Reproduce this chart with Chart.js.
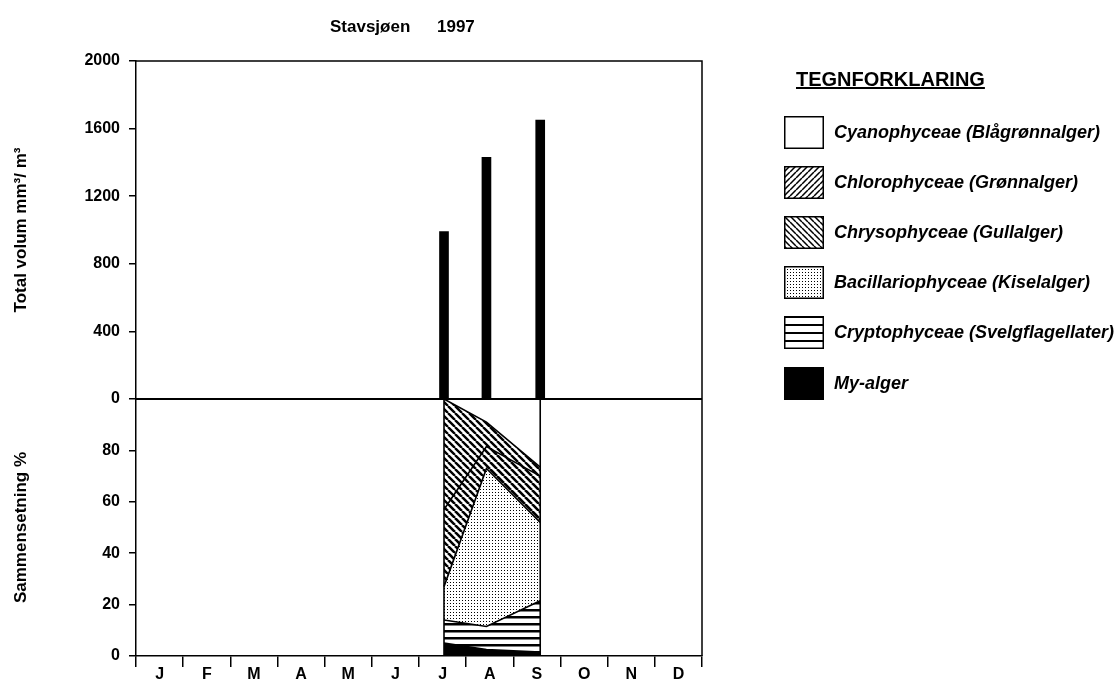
<!DOCTYPE html>
<html><head><meta charset="utf-8">
<script src="https://cdn.jsdelivr.net/npm/chart.js@4.4.1/dist/chart.umd.min.js"></script>
<style>
html,body{margin:0;padding:0;background:#fff;}
#wrap{position:relative;width:1119px;height:684px;overflow:hidden;font-family:"Liberation Sans",Arial,sans-serif;color:#000;background:#fff;}
#c{position:absolute;left:0;top:0;}
.t{position:absolute;font-weight:bold;white-space:nowrap;line-height:1;}
.li{position:absolute;left:784px;height:33px;}
.li canvas{position:absolute;left:0;top:0;}
.li span{position:absolute;left:50px;top:7px;font-weight:bold;font-style:italic;font-size:18px;white-space:nowrap;line-height:1;}
</style></head><body>
<div id="wrap">
<canvas id="c" width="1119" height="684"></canvas>
<div class="t" style="left:330px;top:18px;font-size:17px">Stavsjøen</div>
<div class="t" style="left:437px;top:18px;font-size:17px">1997</div>
<div class="t" style="left:796px;top:69px;font-size:20px;text-decoration:underline">TEGNFORKLARING</div>
<div id="legend"></div>
</div>
<script>
// ---- data ----
const months = ['J','F','M','A','M','J','J','A','S','O','N','D'];
const sampleMonths = [6.53, 7.43, 8.57];          // sampling dates, in months from 1 Jan
const totalVolume = [990, 1430, 1650];            // mm3/m3
const myAlger     = [5, 2.5, 1.5];                // % composition
const cryptophyceae = [9, 9, 20];
const bacillariophyceae = [13, 61.5, 30.5];
const chrysophyceae = [30, 8.5, 18];
const chlorophyceae = [43, 9.5, 3.5];
const cyanophyceae = [0, 9, 26.5];
const volumeTicks = [0, 400, 800, 1200, 1600, 2000];
const percentTicks = [0, 20, 40, 60, 80];
const legendNames = ['Cyanophyceae (Blågrønnalger)','Chlorophyceae (Grønnalger)','Chrysophyceae (Gullalger)','Bacillariophyceae (Kiselalger)','Cryptophyceae (Svelgflagellater)','My-alger'];
const legendStyles = ['white','slash','back','dots','hlines','black'];

// ---- patterns ----
function tile(kind, s, lw){
  const c=document.createElement('canvas'); c.width=s; c.height=s;
  const g=c.getContext('2d'); g.fillStyle='#fff'; g.fillRect(0,0,s,s);
  g.strokeStyle='#000'; g.fillStyle='#000'; g.lineWidth=lw;
  if(kind==='back'){ g.beginPath(); for(const x of [-s,0,s]){g.moveTo(x,0);g.lineTo(x+s,s);} g.stroke(); }
  else if(kind==='slash'){ g.beginPath(); for(const x of [-s,0,s]){g.moveTo(x,s);g.lineTo(x+s,0);} g.stroke(); }
  else if(kind==='hlines'){ g.fillRect(0,0,s,lw); }
  else if(kind==='dots'){ g.fillRect(0,0,1,1); }
  else if(kind==='black'){ g.fillRect(0,0,s,s); }
  return c;
}
const pctx=document.createElement('canvas').getContext('2d');
function pat(kind,s,lw){ return pctx.createPattern(tile(kind,s,lw),'repeat'); }
const fills = {
  my: '#000',
  crypto: pat('hlines',7,2.5),
  bac: pat('dots',3,1),
  chry: pat('back',7,2.6),
  chlo: pat('back',7,2.4),
  cyano: '#fff'
};

// ---- legend ----
const legendTops=[116,166,216,266,316,367];
const legendSpec={white:null,slash:['slash',6,1.5],back:['back',6,1.5],dots:['dots',3,1],hlines:['hlines',8,2],black:['black',4,1]};
const lg=document.getElementById('legend');
legendNames.forEach((name,i)=>{
  const d=document.createElement('div'); d.className='li'; d.style.top=legendTops[i]+'px';
  const cv=document.createElement('canvas'); cv.width=40; cv.height=33;
  const g=cv.getContext('2d'); const sp=legendSpec[legendStyles[i]];
  g.fillStyle = sp ? g.createPattern(tile(sp[0],sp[1],sp[2]),'repeat') : '#fff';
  g.fillRect(0,0,40,33); g.strokeStyle='#000'; g.lineWidth=1.5; g.strokeRect(0.75,0.75,38.5,31.5);
  const sPan=document.createElement('span'); sPan.textContent=name;
  d.appendChild(cv); d.appendChild(sPan); lg.appendChild(d);
});

// ---- chart ----
const pts = arr => arr.map((v,i)=>({x:sampleMonths[i], y:v}));
const area = (label, arr, fill, bg) => ({type:'line', label, data:pts(arr), yAxisID:'yBot', fill,
  backgroundColor:bg, borderColor:'#000', borderWidth:1.6, pointRadius:0, tension:0});

const framePlugin = {
  id:'frame',
  afterDatasetsDraw(chart){
    const {ctx, chartArea:a, scales} = chart;
    ctx.save(); ctx.strokeStyle='#000';
    ctx.lineWidth=1.5;
    ctx.beginPath(); ctx.moveTo(a.left,a.top); ctx.lineTo(a.right,a.top); ctx.lineTo(a.right,a.bottom); ctx.stroke();
    const y0 = scales.yTop.getPixelForValue(0);
    ctx.lineWidth=2; ctx.beginPath(); ctx.moveTo(a.left,y0); ctx.lineTo(a.right,y0); ctx.stroke();
    ctx.lineWidth=1.6;
    const yb0=scales.yBot.getPixelForValue(0), yb1=scales.yBot.getPixelForValue(100);
    for(const m of [sampleMonths[0], sampleMonths[sampleMonths.length-1]]){
      const x=scales.x.getPixelForValue(m);
      ctx.beginPath(); ctx.moveTo(x,yb0); ctx.lineTo(x,yb1); ctx.stroke();
    }
    ctx.restore();
  }
};

const font = s => ({family:'"Liberation Sans", Arial, sans-serif', size:s, weight:'bold'});
new Chart(document.getElementById('c'), {
  type:'bar',
  data:{ datasets:[
    {type:'bar', label:'Total volum', data:pts(totalVolume), yAxisID:'yTop', backgroundColor:'#000', barThickness:9},
    area('My-alger', myAlger, 'origin', fills.my),
    area('Cryptophyceae', cryptophyceae, '-1', fills.crypto),
    area('Bacillariophyceae', bacillariophyceae, '-1', fills.bac),
    area('Chrysophyceae', chrysophyceae, '-1', fills.chry),
    area('Chlorophyceae', chlorophyceae, '-1', fills.chlo),
    area('Cyanophyceae', cyanophyceae, '-1', fills.cyano)
  ]},
  options:{
    responsive:false, animation:false, devicePixelRatio:1,
    layout:{padding:{top:61,right:417,left:0,bottom:0}},
    plugins:{legend:{display:false}, tooltip:{enabled:false}, title:{display:false}},
    scales:{
      x:{type:'linear', min:0, max:12, offset:false, position:'bottom',
        afterBuildTicks:s=>{s.ticks=months.map((m,i)=>({value:i})).concat([{value:12}]);},
        afterFit:s=>{s.height=28;},
        grid:{drawOnChartArea:false, offset:false, tickLength:11, color:'#000', lineWidth:1.5},
        border:{color:'#000', width:1.5},
        ticks:{color:'#000', font:font(16), labelOffset:23.6, padding:-2, maxRotation:0, autoSkip:false,
          callback:v=>months[v] ?? ''}},
      yBot:{type:'linear', position:'left', stack:'v', stackWeight:257, stacked:true, min:0, max:100,
        afterBuildTicks:s=>{s.ticks=percentTicks.map(v=>({value:v}));},
        afterFit:s=>{s.width=136;},
        grid:{drawOnChartArea:false, tickLength:7, color:'#000', lineWidth:1.5},
        border:{color:'#000', width:1.5},
        ticks:{color:'#000', font:font(16), padding:9, callback:v=>String(v)},
        title:{display:true, text:'Sammensetning %', color:'#000', font:font(17), padding:{top:11,bottom:0}}},
      yTop:{type:'linear', position:'left', stack:'v', stackWeight:338, min:0, max:2000,
        afterBuildTicks:s=>{s.ticks=volumeTicks.map(v=>({value:v}));},
        afterFit:s=>{s.width=136;},
        grid:{drawOnChartArea:false, tickLength:7, color:'#000', lineWidth:1.5},
        border:{color:'#000', width:1.5},
        ticks:{color:'#000', font:font(16), padding:9, callback:v=>String(v)},
        title:{display:true, text:'Total volum mm³/ m³', color:'#000', font:font(17), padding:{top:11,bottom:0}}}
    }
  },
  plugins:[framePlugin]
});
</script>
</body></html>
